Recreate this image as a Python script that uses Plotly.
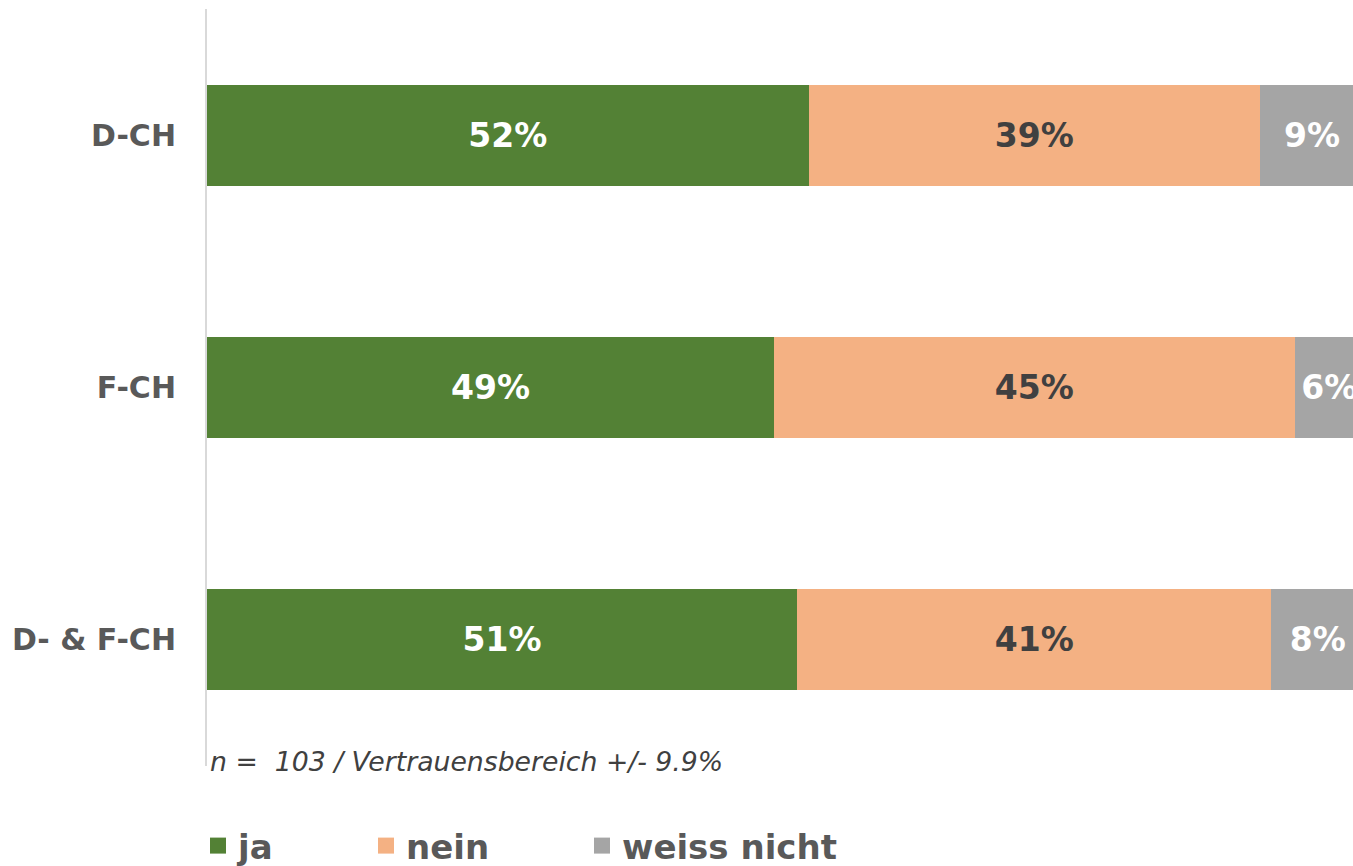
import plotly.graph_objects as go

categories = ["D-CH", "F-CH", "D- & F-CH"]
ja = [52, 49, 51]
nein = [39, 45, 41]
weiss_nicht = [9, 6, 8]
series_names = ["ja", "nein", "weiss nicht"]
note = "n =  103 / Vertrauensbereich +/- 9.9%"

colors = ["#538135", "#F4B183", "#A5A5A5"]
text_colors = ["#FFFFFF", "#404040", "#FFFFFF"]
legend_widths = [123, 171, None]
FONT = "DejaVu Sans"

W, H = 1353, 866
L, R = 207, 0
T = 9
PLOT_BOTTOM = 766
B = H - PLOT_BOTTOM
plot_h = H - T - B
plot_w = W - L - R
x_max = plot_w / 1157 * 100

fig = go.Figure()
for name, vals, col, tcol in zip(series_names, [ja, nein, weiss_nicht], colors, text_colors):
    fig.add_trace(go.Bar(
        y=categories, x=vals, name=name, orientation="h",
        marker=dict(color=col, line=dict(width=0)),
        texttemplate="%{x:.0f}%", textposition="inside",
        insidetextanchor="middle", textangle=0, constraintext="none",
        insidetextfont=dict(family=FONT, size=33, color=tcol, weight="bold"),
        hoverinfo="skip", showlegend=False, legendgroup=name,
    ))
# legend entries (square markers)
for name, col, lw in zip(series_names, colors, legend_widths):
    fig.add_trace(go.Scatter(
        x=[None], y=[None], mode="markers", name=name, legendgroup=name,
        marker=dict(symbol="square", size=20, color=col),
        legendwidth=lw, showlegend=True, hoverinfo="skip",
    ))

fig.update_layout(
    width=W, height=H,
    barmode="stack", bargap=0.6,
    margin=dict(l=L, r=R, t=T, b=B, pad=0, autoexpand=False),
    paper_bgcolor="white", plot_bgcolor="white",
    font=dict(family=FONT),
    showlegend=True,
    legend=dict(
        orientation="h", x=(198 - L) / plot_w, xanchor="left",
        y=-(846 - PLOT_BOTTOM) / plot_h, yanchor="middle",
        font=dict(family=FONT, size=34, color="#595959", weight="bold"),
        traceorder="normal",
    ),
    xaxis=dict(range=[0, x_max], showgrid=False, zeroline=False,
               showticklabels=False, showline=False, fixedrange=True),
    yaxis=dict(autorange="reversed", showgrid=False, zeroline=False,
               showline=True, linecolor="#D9D9D9", linewidth=2,
               ticks="", ticklabelstandoff=23,
               tickfont=dict(family=FONT, size=30, color="#595959", weight="bold")),
    annotations=[dict(
        text=note, xref="paper", yref="paper",
        x=(208 - L) / plot_w, y=-(761 - PLOT_BOTTOM) / plot_h,
        xanchor="left", yanchor="middle", showarrow=False,
        font=dict(family=FONT, size=26.7, color="#404040", style="italic"),
    )],
)

fig.write_html("out.html", config={"displayModeBar": False},
               post_script="document.body.style.margin='0';")
